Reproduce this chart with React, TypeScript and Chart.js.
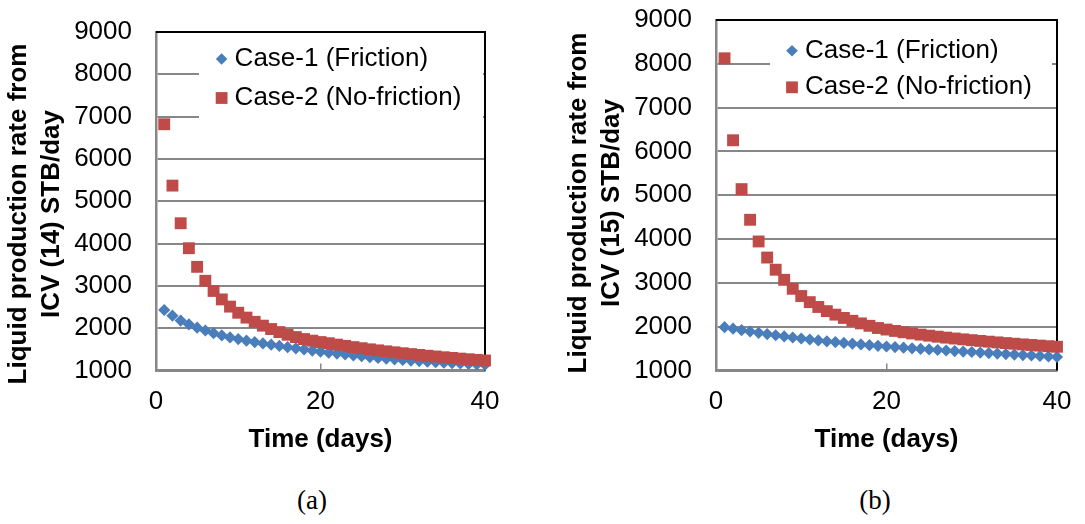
import React, { useEffect, useRef } from 'react';
import { Chart, registerables } from 'chart.js';

Chart.register(...registerables);

// ---------- data ----------
const days = [1, 2, 3, 4, 5, 6, 7, 8, 9, 10, 11, 12, 13, 14, 15, 16, 17, 18, 19, 20,
  21, 22, 23, 24, 25, 26, 27, 28, 29, 30, 31, 32, 33, 34, 35, 36, 37, 38, 39, 40];

const friction14 = [2430, 2296, 2180, 2091, 2012, 1945, 1882, 1828, 1782, 1742,
  1705, 1672, 1641, 1610, 1580, 1551, 1523, 1496, 1470, 1445,
  1422, 1400, 1378, 1357, 1337, 1314, 1297, 1280, 1264, 1249,
  1235, 1222, 1209, 1197, 1186, 1175, 1165, 1155, 1146, 1137];

const noFriction14 = [6820, 5370, 4480, 3890, 3450, 3120, 2880, 2680, 2510, 2365,
  2250, 2150, 2060, 1980, 1908, 1845, 1790, 1743, 1705, 1672,
  1645, 1612, 1582, 1553, 1527, 1500, 1476, 1453, 1430, 1408,
  1388, 1368, 1349, 1331, 1313, 1297, 1281, 1266, 1251, 1237];

const friction15 = [1990, 1955, 1921, 1890, 1860, 1831, 1804, 1778, 1753, 1730,
  1708, 1687, 1667, 1648, 1630, 1612, 1595, 1579, 1563, 1548,
  1534, 1520, 1506, 1493, 1480, 1468, 1456, 1444, 1433, 1422,
  1410, 1398, 1386, 1375, 1364, 1353, 1342, 1331, 1320, 1310];

const noFriction15 = [8126, 6255, 5140, 4440, 3945, 3578, 3300, 3070, 2865, 2700,
  2560, 2450, 2355, 2275, 2200, 2135, 2075, 2020, 1970, 1935,
  1903, 1873, 1845, 1819, 1795, 1772, 1750, 1730, 1711, 1693,
  1675, 1658, 1642, 1626, 1611, 1596, 1582, 1568, 1555, 1542];

const yTickValues = [1000, 2000, 3000, 4000, 5000, 6000, 7000, 8000, 9000];
const xTickValues = [0, 20, 40];
const seriesNames = ['Case-1 (Friction)', 'Case-2 (No-friction)'];
const yTitle14 = ['Liquid production rate from', 'ICV (14) STB/day'];
const yTitle15 = ['Liquid production rate from', 'ICV (15) STB/day'];
const xTitle = 'Time (days)';
const captions = ['(a)', '(b)'];

// ---------- styles / layout ----------
const SANS = '"Liberation Sans", Arial, sans-serif';
const SERIF = '"Liberation Serif", "Times New Roman", serif';
const BLUE = '#4A7EBB';
const RED = '#BE4B48';
const GRID = '#878787';

type PanelLayout = {
  left: number; width: number; height: number;
  plotLeft: number; plotTop: number; plotBottom: number; rightPad: number;
  yTitleX: number[]; yTitleY: number;
  legend: { x0: number; x1: number; y0: number; y1: number; mx: number; tx: number; rows: number[] };
  captionX: number;
};

const layoutA: PanelLayout = {
  left: 0, width: 545, height: 470,
  plotLeft: 156, plotTop: 32, plotBottom: 370.5, rightPad: 60,
  yTitleX: [18.8, 51.4], yTitleY: 214,
  legend: { x0: 199, x1: 483, y0: 34, y1: 119, mx: 221.6, tx: 234.6, rows: [59, 98] },
  captionX: 312,
};

const layoutB: PanelLayout = {
  left: 543, width: 542, height: 470,
  plotLeft: 173, plotTop: 20, plotBottom: 370.5, rightPad: 28,
  yTitleX: [36, 68.7], yTitleY: 203,
  legend: { x0: 227, x1: 509, y0: 22, y1: 106, mx: 249, tx: 262, rows: [50.7, 87.3] },
  captionX: 875,
};

function Panel(props: { s1: number[]; s2: number[]; yTitle: string[]; L: PanelLayout }) {
  const ref = useRef<HTMLCanvasElement | null>(null);
  const { s1, s2, yTitle, L } = props;

  useEffect(() => {
    const canvas = ref.current;
    if (!canvas) return;

    const decor = {
      id: 'decor',
      beforeDatasetsDraw(chart: any) {
        const { ctx, chartArea: a } = chart;
        ctx.save();
        // top and right frame
        ctx.strokeStyle = '#000';
        ctx.lineWidth = 2;
        ctx.beginPath();
        ctx.moveTo(a.left, a.top);
        ctx.lineTo(a.right, a.top);
        ctx.lineTo(a.right, a.bottom);
        ctx.stroke();

        // legend
        const lg = L.legend;
        ctx.fillStyle = '#fff';
        ctx.fillRect(lg.x0, lg.y0, lg.x1 - lg.x0, lg.y1 - lg.y0);
        // diamond
        const r = 5.8;
        ctx.fillStyle = BLUE;
        ctx.beginPath();
        ctx.moveTo(lg.mx, lg.rows[0] - r);
        ctx.lineTo(lg.mx + r, lg.rows[0]);
        ctx.lineTo(lg.mx, lg.rows[0] + r);
        ctx.lineTo(lg.mx - r, lg.rows[0]);
        ctx.closePath();
        ctx.fill();
        // square
        const h = 5.9;
        ctx.fillStyle = RED;
        ctx.fillRect(lg.mx - h, lg.rows[1] - h, 2 * h, 2 * h);
        ctx.fillStyle = '#000';
        ctx.font = `26px ${SANS}`;
        ctx.textAlign = 'left';
        ctx.textBaseline = 'middle';
        chart.data.datasets.forEach((ds: any, i: number) => {
          ctx.fillText(ds.label, lg.tx, lg.rows[i]);
        });

        // y axis title (two lines, rotated)
        ctx.font = `bold 26px ${SANS}`;
        ctx.textAlign = 'center';
        yTitle.forEach((line, i) => {
          ctx.save();
          ctx.translate(L.yTitleX[i], L.yTitleY);
          ctx.rotate(-Math.PI / 2);
          ctx.fillText(line, 0, 0);
          ctx.restore();
        });
        ctx.restore();
      },
    };

    const chart = new Chart(canvas, {
      type: 'scatter',
      data: {
        datasets: [
          {
            label: seriesNames[0],
            data: days.map((d, i) => ({ x: d, y: s1[i] })),
            pointStyle: 'rectRot',
            pointRadius: 6.1,
            backgroundColor: BLUE,
            borderColor: BLUE,
            borderWidth: 0,
            order: 1,
            clip: false,
          },
          {
            label: seriesNames[1],
            data: days.map((d, i) => ({ x: d, y: s2[i] })),
            pointStyle: 'rect',
            pointRadius: 8.4,
            backgroundColor: RED,
            borderColor: RED,
            borderWidth: 0,
            order: 0,
            clip: false,
          },
        ],
      },
      options: {
        responsive: false,
        animation: false,
        devicePixelRatio: 1,
        events: [],
        layout: { padding: { left: 0, top: L.plotTop, right: L.rightPad, bottom: 0 } },
        plugins: { legend: { display: false }, tooltip: { enabled: false } },
        scales: {
          x: {
            type: 'linear',
            min: 0,
            max: 40,
            afterBuildTicks: (s: any) => { s.ticks = xTickValues.map((v) => ({ value: v })); },
            afterFit: (s: any) => {
              s.height = L.height - L.plotBottom;
              s.paddingLeft = 0; s.paddingRight = 0; s.paddingTop = 0; s.paddingBottom = 0;
            },
            ticks: {
              font: { family: SANS, size: 26 },
              color: '#000',
              padding: 22.6,
              autoSkip: false,
              maxRotation: 0,
              callback: (v: any) => `${v}`,
            },
            grid: { drawOnChartArea: false, drawTicks: true, tickLength: -7, color: GRID, lineWidth: 1.5 },
            border: { display: true, color: GRID, width: 2.5 },
            title: {
              display: true,
              text: xTitle,
              color: '#000',
              font: { family: SANS, size: 26, weight: 'bold' },
              padding: { top: 0, bottom: 15 },
            },
          },
          y: {
            type: 'linear',
            min: 1000,
            max: 9000,
            afterBuildTicks: (s: any) => { s.ticks = yTickValues.map((v) => ({ value: v })); },
            afterFit: (s: any) => {
              s.width = L.plotLeft;
              s.paddingLeft = 0; s.paddingRight = 0; s.paddingTop = 0; s.paddingBottom = 0;
            },
            ticks: {
              font: { family: SANS, size: 26 },
              color: '#000',
              padding: 24,
              callback: (v: any) => `${v}`,
            },
            grid: { color: GRID, lineWidth: 2, drawTicks: false },
            border: { display: true, color: GRID, width: 2.5 },
          },
        },
      } as any,
      plugins: [decor as any],
    });

    return () => chart.destroy();
  }, [s1, s2, yTitle, L]);

  return (
    <canvas
      ref={ref}
      width={L.width}
      height={L.height}
      style={{ position: 'absolute', left: L.left, top: 0, width: L.width, height: L.height }}
    />
  );
}

export default function App() {
  return (
    <div style={{ position: 'absolute', left: 0, top: 0, width: 1085, height: 524, background: '#fff', overflow: 'hidden' }}>
      <Panel s1={friction14} s2={noFriction14} yTitle={yTitle14} L={layoutA} />
      <Panel s1={friction15} s2={noFriction15} yTitle={yTitle15} L={layoutB} />
      {[layoutA, layoutB].map((L, i) => (
        <div
          key={i}
          style={{
            position: 'absolute',
            left: L.captionX - 40,
            top: 484,
            width: 80,
            textAlign: 'center',
            font: `27px ${SERIF}`,
            lineHeight: '32px',
            color: '#000',
          }}
        >
          {captions[i]}
        </div>
      ))}
    </div>
  );
}
